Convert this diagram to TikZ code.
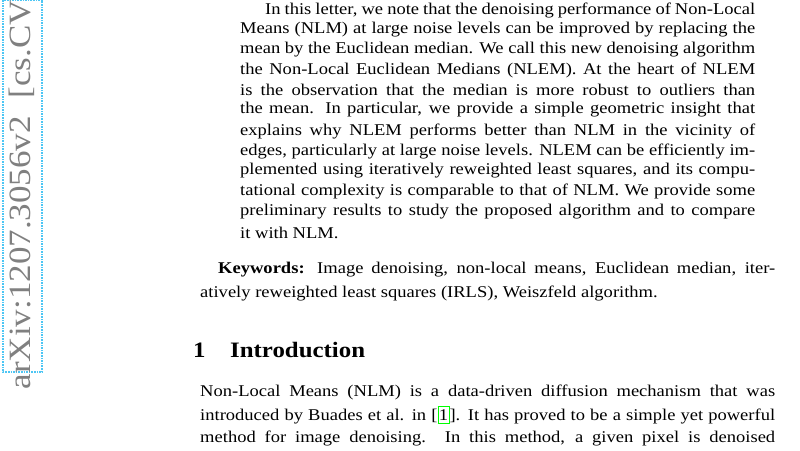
\documentclass[tikz,border=0pt]{standalone}
\usepackage{fontspec}
\setmainfont[FakeStretch=1.13]{Liberation Serif}
\begin{document}
\begin{tikzpicture}[x=1pt,y=-1pt,
  ln/.style={anchor=west,inner sep=0pt,font=\fontsize{16.4}{18}\selectfont},
  hd/.style={anchor=west,inner sep=0pt,font=\fontsize{22}{24}\selectfont\bfseries},
  stamp/.style={rotate=90,inner sep=0pt,text=gray,font=\fontsize{31}{32}\selectfont},
  stampbox/.style={draw=cyan!70,densely dotted,line width=1.6pt}]
\useasboundingbox (0,0) rectangle (800,450);
\draw[stampbox] (3,0) rectangle (42,372);
\node[stamp] (st) at (22,189) {arXiv:1207.3056v2\ \ [cs.CV]};
% abstract
\node[ln] (a1) at (265,10) {\makebox[490pt][s]{In this letter, we note that the denoising performance of Non-Local}};
\node[ln] (a2) at (240,30) {\makebox[515pt][s]{Means (NLM) at large noise levels can be improved by replacing the}};
\node[ln] (a3) at (240,50) {\makebox[515pt][s]{mean by the Euclidean median. We call this new denoising algorithm}};
\node[ln] (a4) at (240,70) {\makebox[515pt][s]{the Non-Local Euclidean Medians (NLEM). At the heart of NLEM}};
\node[ln] (a5) at (240,90) {\makebox[515pt][s]{is the observation that the median is more robust to outliers than}};
\node[ln] (a6) at (240,110) {\makebox[515pt][s]{the mean. In particular, we provide a simple geometric insight that}};
\node[ln] (a7) at (240,131) {\makebox[515pt][s]{explains why NLEM performs better than NLM in the vicinity of}};
\node[ln] (a8) at (240,151) {\makebox[515pt][s]{edges, particularly at large noise levels. NLEM can be efficiently im-}};
\node[ln] (a9) at (240,171) {\makebox[515pt][s]{plemented using iteratively reweighted least squares, and its compu-}};
\node[ln] (a10) at (240,191) {\makebox[515pt][s]{tational complexity is comparable to that of NLM. We provide some}};
\node[ln] (a11) at (240,212) {\makebox[515pt][s]{preliminary results to study the proposed algorithm and to compare}};
\node[ln] (a12) at (240,233) {it with NLM.};
% keywords
\node[ln] (k1) at (218,270) {\makebox[557pt][s]{\textbf{Keywords:} Image denoising, non-local means, Euclidean median, iter-}};
\node[ln] (k2) at (200,293) {atively reweighted least squares (IRLS), Weiszfeld algorithm.};
% heading
\node[hd] (h1) at (193,350) {1};
\node[hd] (h2) at (230,350) {Introduction};
% intro
\node[ln] (i1) at (200,392) {\makebox[575pt][s]{Non-Local Means (NLM) is a data-driven diffusion mechanism that was}};
\node[ln] (i2) at (200,415) {\makebox[575pt][s]{introduced by Buades et al. in [\fcolorbox{green}{white}{\kern-2pt 1\kern-2pt}]. It has proved to be a simple yet powerful}};
\node[ln] (i3) at (200,438) {\makebox[575pt][s]{method for image denoising. In this method, a given pixel is denoised}};
\end{tikzpicture}
\end{document}
